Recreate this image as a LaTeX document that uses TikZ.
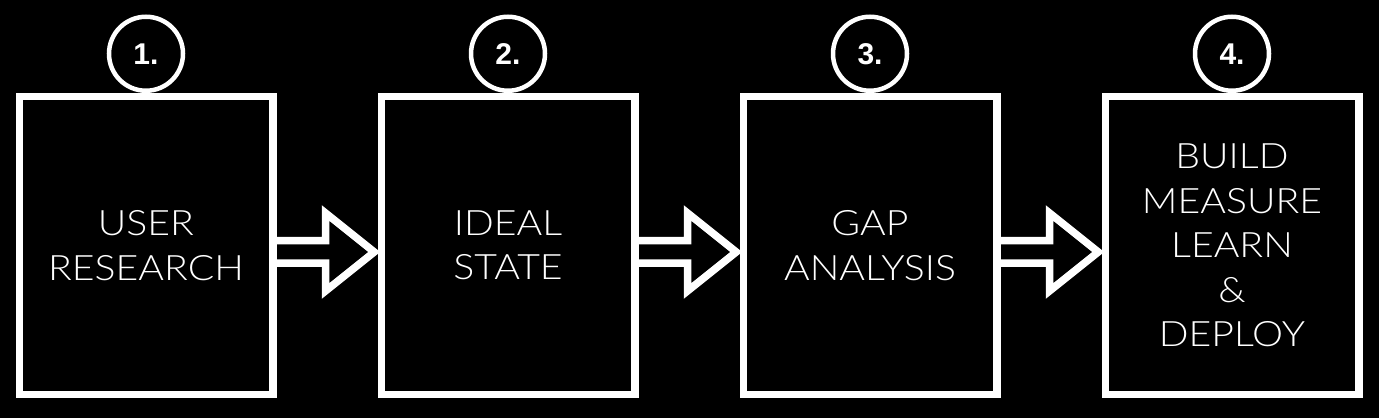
\documentclass[tikz,border=0pt]{standalone}
\usepackage{fontspec}
\setmainfont{Liberation Sans}
\IfFontExistsTF{Lato Light}
  {\newfontfamily\lightfont{Lato Light}[FakeStretch=1.12]}
  {\newfontfamily\lightfont{Liberation Sans}}
\usetikzlibrary{positioning}

\tikzset{
  stepbox/.style={draw=white, line width=7.5pt, minimum width=253.5pt,
    minimum height=297.5pt, inner sep=0pt, outer sep=0pt, text=white,
    align=center, font=\lightfont\fontsize{35}{44.5}\selectfont},
  stepnum/.style={circle, draw=white, line width=4.5pt, minimum size=74pt,
    inner sep=0pt, outer sep=0pt, text=white,
    font=\fontsize{30}{30}\selectfont\bfseries},
  steparrow/.style={draw=white, line width=7.5pt, line join=miter}
}

\newcommand*{\StepArrow}[2]{%
   \coordinate (tail) at ([yshift=-6.5pt]#1.east);
   \coordinate (tip) at ([xshift=-7pt,yshift=-6.5pt]#2.west);
   \draw[steparrow] ([yshift=11.25pt]tail) -- ([xshift=52.75pt,yshift=11.25pt]tail)
      -- ([xshift=52.75pt,yshift=39pt]tail) -- (tip)
      -- ([xshift=52.75pt,yshift=-39pt]tail) -- ([xshift=52.75pt,yshift=-11.25pt]tail)
      -- ([yshift=-11.25pt]tail);}

\begin{document}
\begin{tikzpicture}[x=1pt,y=1pt]
            \fill[black] (0,0) rectangle (1379,418);
            \node[stepbox] (user) at (146,172.5) {USER\\RESEARCH};
            \node[stepbox, right=108.5pt of user] (ideal) {IDEAL\\STATE};
            \node[stepbox, right=108.5pt of ideal] (gap) {GAP\\ANALYSIS};
            \node[stepbox, right=108.5pt of gap] (build) {BUILD\\MEASURE\\LEARN\\\&\\DEPLOY};
            \foreach \b/\n in {user/1, ideal/2, gap/3, build/4}{
              \node[stepnum, above=6pt of \b] (num\n) {\n.};
            }
            \foreach \a/\b in {user/ideal, ideal/gap, gap/build}{
              \StepArrow{\a}{\b}
            }
          \end{tikzpicture}
\end{document}
